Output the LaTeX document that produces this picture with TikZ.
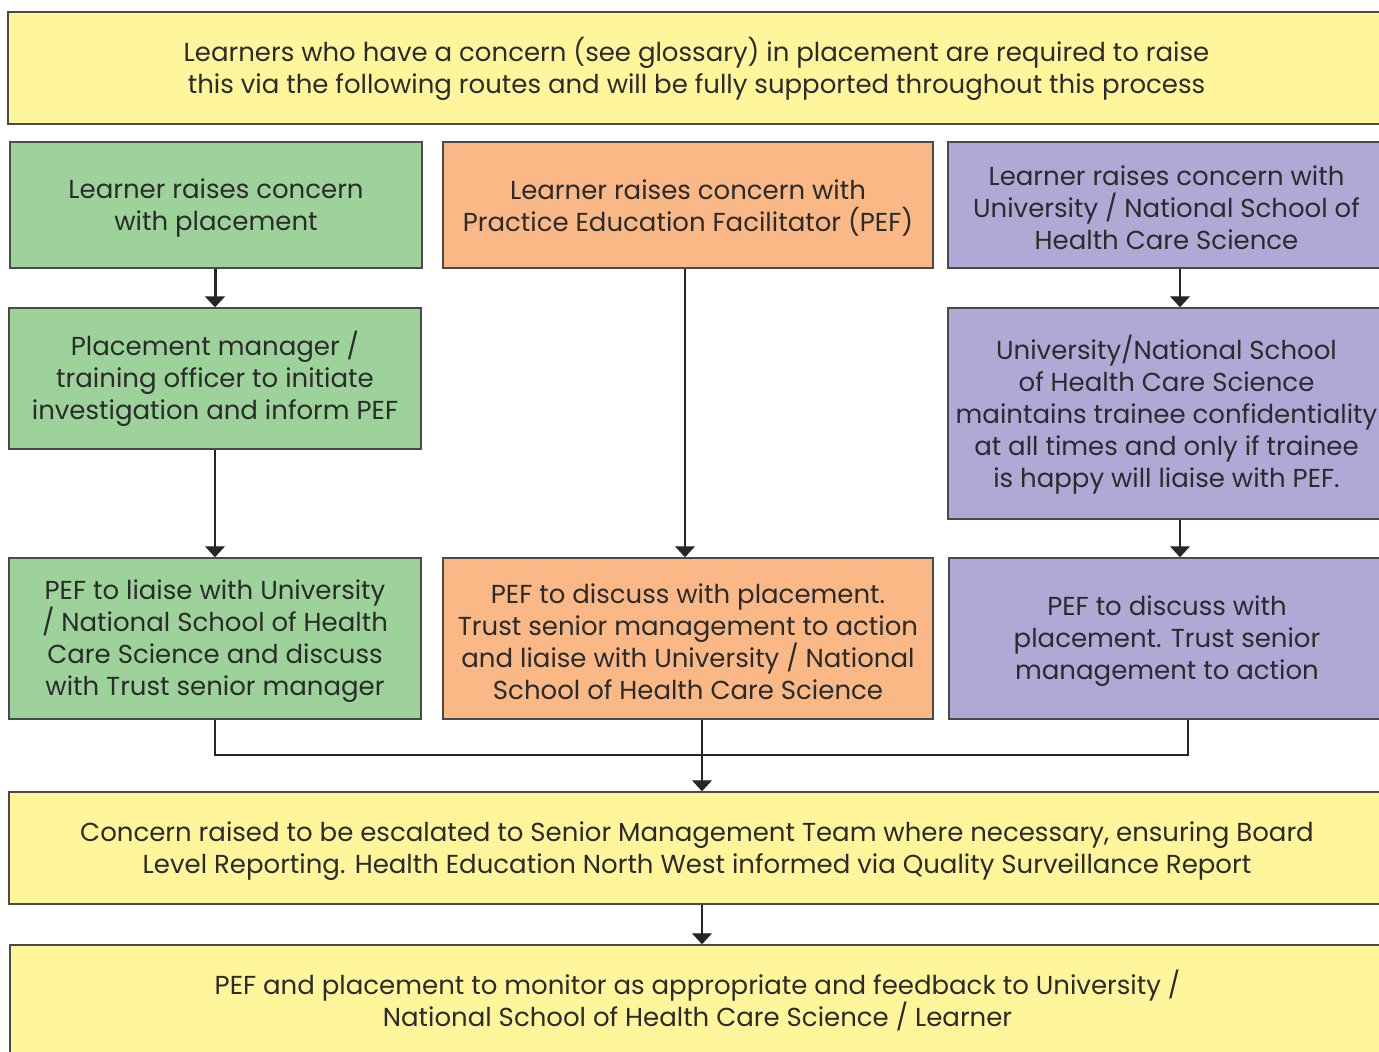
\documentclass[tikz,border=0pt]{standalone}
\usepackage{fontspec}
\setmainfont{Poppins}
\usetikzlibrary{arrows.meta}
\definecolor{cyel}{HTML}{FFF59B}
\definecolor{cgrn}{HTML}{9DD29B}
\definecolor{corg}{HTML}{F9B885}
\definecolor{cpur}{HTML}{AFA9D5}
\definecolor{cbrd}{HTML}{4A4A48}
\definecolor{ctxt}{HTML}{2B2B2B}
\newcommand{\topstrut}{\rule{0pt}{26pt}}
\newcommand{\botstrut}{\rule[-14pt]{0pt}{1pt}}
\tikzset{
  box/.style={draw=cbrd, line width=1.5pt, inner sep=0pt, align=center, text=ctxt,
    font=\fontsize{26}{32}\selectfont},
  conn/.style={draw=black!85, line width=1.2pt},
  arr/.style={conn, -{Triangle[width=20pt,length=11pt]}},
}
\begin{document}
\begin{tikzpicture}[x=1pt,y=-1pt]
\useasboundingbox (0,0) rectangle (1379,1052);
\clip (0,0) rectangle (1379,1052);
\node[box, fill=cyel, minimum width=1377, minimum height=112] (top) at (696.5,68)
  {\topstrut Learners who have a concern (see glossary) in placement are required to raise\\this via the following routes and will be fully supported throughout this process};
\node[box, fill=cgrn, minimum width=412, minimum height=126] (g1) at (216,205)
  {\topstrut Learner raises concern\\with placement};
\node[box, fill=corg, minimum width=490, minimum height=126] (o1) at (688,205)
  {\topstrut Learner raises concern with\\Practice Education Facilitator (PEF)};
\node[box, fill=cpur, minimum width=437, minimum height=126] (p1) at (1166.5,205)
  {\topstrut Learner raises concern with\\University / National School of\\Health Care Science};
\node[box, fill=cgrn, minimum width=412, minimum height=141] (g2) at (215,378.5)
  {\topstrut Placement manager /\\training officer to initiate\\investigation and inform PEF};
\node[box, fill=cpur, minimum width=437, minimum height=211] (p2) at (1166.5,413.5)
  {\topstrut University/National School\\of Health Care Science\\maintains trainee confidentiality\\at all times and only if trainee\\is happy will liaise with PEF.};
\node[box, fill=cgrn, minimum width=412, minimum height=161] (g3) at (215,638.5)
  {\topstrut PEF to liaise with University\\/ National School of Health\\Care Science and discuss\\with Trust senior manager};
\node[box, fill=corg, minimum width=490, minimum height=161] (o3) at (688,638.5)
  {\topstrut PEF to discuss with placement.\\Trust senior management to action\\and liaise with University / National\\School of Health Care Science};
\node[box, fill=cpur, minimum width=436, minimum height=161] (p3) at (1167,638.5)
  {\topstrut PEF to discuss with\\placement. Trust senior\\management to action};
\node[box, fill=cyel, minimum width=1376, minimum height=112] (y4) at (697,848)
  {\topstrut Concern raised to be escalated to Senior Management Team where necessary, ensuring Board\\Level Reporting. Health Education North West informed via Quality Surveillance Report};
\node[box, fill=cyel, minimum width=1375, minimum height=120] (y5) at (697.5,1005)
  {PEF and placement to monitor as appropriate and feedback to University /\\National School of Health Care Science / Learner\botstrut};
\coordinate (xg) at (215,0);
\coordinate (xo) at (685,0);
\coordinate (xp) at (1180,0);
\coordinate (xo2) at (702,0);
\coordinate (xp2) at (1188,0);
\coordinate (jy) at (0,755);
\draw[arr, line width=3pt] (xg |- g1.south) -- (xg |- g2.north);
\draw[arr] (xg |- g2.south) -- (xg |- g3.north);
\draw[arr] (xo |- o1.south) -- (xo |- o3.north);
\draw[arr] (xp |- p1.south) -- (xp |- p2.north);
\draw[arr] (xp |- p2.south) -- (xp |- p3.north);
\draw[conn] (xg |- g3.south) -- (xg |- jy) -- (xp2 |- jy) -- (xp2 |- p3.south);
\draw[arr] (xo2 |- o3.south) -- (xo2 |- y4.north);
\draw[arr] (xo2 |- y4.south) -- (xo2 |- y5.north);
\end{tikzpicture}
\end{document}
